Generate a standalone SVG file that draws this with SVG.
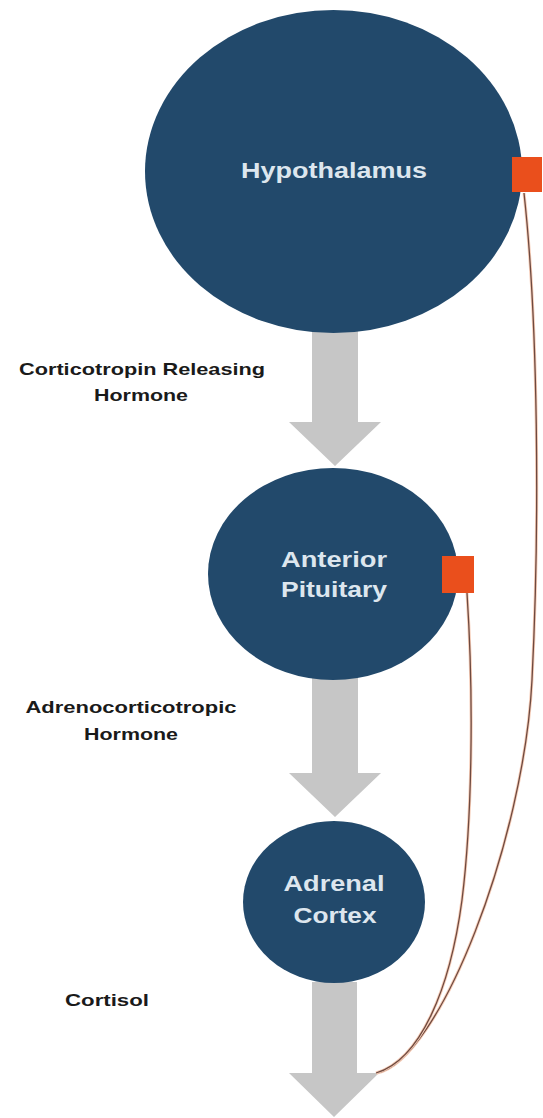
<svg xmlns="http://www.w3.org/2000/svg" width="543" height="1118" viewBox="0 0 543 1118">
<style>
.node{fill:#22496b}
.ntxt{font-family:"Liberation Sans",Arial,sans-serif;font-weight:bold;font-size:22px;fill:#dde6ee;text-anchor:middle}
.lbl{font-family:"Liberation Sans",Arial,sans-serif;font-weight:bold;font-size:17px;fill:#1a1a1a;text-anchor:middle}
.arrow{fill:#c6c6c6}
.sq{fill:#ea4f1c}
.halo{fill:none;stroke:#f6cdb8;stroke-width:3}
.line{fill:none;stroke:#6e4a40;stroke-width:1.3}
</style>
<rect width="543" height="1118" fill="#ffffff"/>
<g id="connectors">
  <polygon class="arrow" points="312,330 358,330 358,422 381,422 335,466 289,422 312,422"/>
  <polygon class="arrow" points="312,678 358,678 358,773 381,773 335,817 289,773 312,773"/>
  <polygon class="arrow" points="312,982 357,982 357,1073 379,1073 334,1117 289,1073 312,1073"/>
  <path class="halo" d="M524,193 C538,320 540,520 532,680 C524,840 440,1060 377,1073"/>
  <path class="line" d="M524,193 C538,320 540,520 532,680 C524,840 440,1060 377,1073"/>
  <path class="halo" d="M467,593 C474,700 472,820 462,900 C450,990 420,1060 376,1073"/>
  <path class="line" d="M467,593 C474,700 472,820 462,900 C450,990 420,1060 376,1073"/>
</g>
<g id="hypothalamus">
  <ellipse class="node" cx="333.5" cy="171.5" rx="188.5" ry="161.5"/>
  <text class="ntxt" x="334" y="178" textLength="186" lengthAdjust="spacingAndGlyphs">Hypothalamus</text>
  <rect class="sq" x="512" y="157" width="30" height="35"/>
</g>
<g id="anterior-pituitary">
  <ellipse class="node" cx="333" cy="574" rx="125" ry="106"/>
  <text class="ntxt" x="334" y="567" textLength="106" lengthAdjust="spacingAndGlyphs">Anterior</text>
  <text class="ntxt" x="334" y="597" textLength="106" lengthAdjust="spacingAndGlyphs">Pituitary</text>
  <rect class="sq" x="442" y="556" width="32" height="37"/>
</g>
<g id="adrenal-cortex">
  <ellipse class="node" cx="334" cy="902" rx="91" ry="81"/>
  <text class="ntxt" x="334" y="891" textLength="101" lengthAdjust="spacingAndGlyphs">Adrenal</text>
  <text class="ntxt" x="335" y="923" textLength="83" lengthAdjust="spacingAndGlyphs">Cortex</text>
</g>
<g id="label-crh">
  <text class="lbl" x="142" y="375" textLength="246" lengthAdjust="spacingAndGlyphs">Corticotropin Releasing</text>
  <text class="lbl" x="141" y="401" textLength="94" lengthAdjust="spacingAndGlyphs">Hormone</text>
</g>
<g id="label-acth">
  <text class="lbl" x="131" y="713" textLength="211" lengthAdjust="spacingAndGlyphs">Adrenocorticotropic</text>
  <text class="lbl" x="131" y="740" textLength="94" lengthAdjust="spacingAndGlyphs">Hormone</text>
</g>
<g id="label-cortisol">
  <text class="lbl" x="107" y="1006" textLength="84" lengthAdjust="spacingAndGlyphs">Cortisol</text>
</g>
</svg>
